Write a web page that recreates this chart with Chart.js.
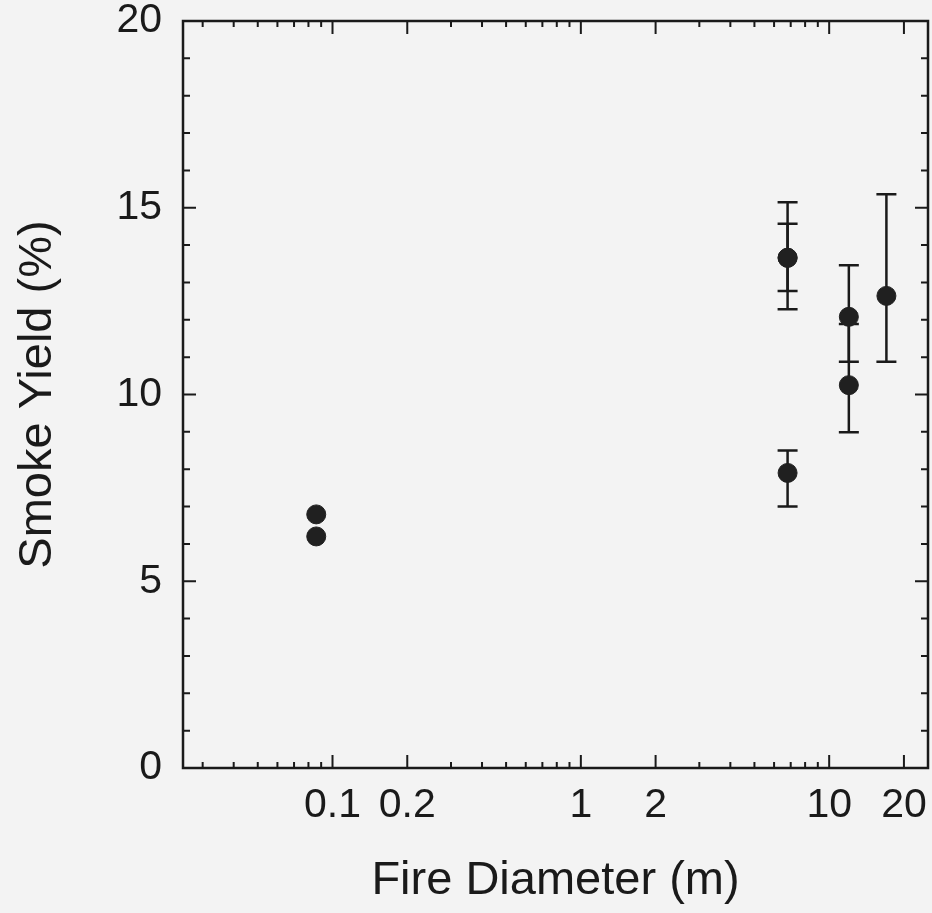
<!DOCTYPE html>
<html lang="en">
<head>
  <meta charset="UTF-8">
  <title>Smoke Yield vs Fire Diameter</title>
  <style>
    body {
      margin: 0;
      background: #f3f3f3;
    }
    #wrap {
      width: 932px;
      height: 913px;
    }
  </style>
  <script src="https://cdn.jsdelivr.net/npm/chart.js"></script>
</head>
<body>

<div id="wrap"><canvas id="chart" width="932" height="913"></canvas></div>

<script>
// measured points (fire diameter in m, smoke yield in %)
const diameter = [0.086, 0.086, 6.8, 6.8, 6.8, 12, 12, 17];
const smokeYield = [6.79, 6.2, 13.66, 13.66, 7.9, 12.08, 10.25, 12.64];
// error bar ends (null = no bar)
const errLow = [null, null, 12.77, 12.28, 7.0, 10.88, 8.99, 10.88];
const errHigh = [null, null, 14.57, 15.15, 8.5, 13.46, 11.89, 15.36];

// tick values
const xTickLabels = [0.1, 0.2, 1, 2, 10, 20];
const xMinorTicks = [0.03, 0.04, 0.05, 0.06, 0.07, 0.08, 0.09,
                     0.3, 0.4, 0.5, 0.6, 0.7, 0.8, 0.9,
                     3, 4, 5, 6, 7, 8, 9];
const yTickLabels = [0, 5, 10, 15, 20];
const yMinorTicks = [1, 2, 3, 4, 6, 7, 8, 9, 11, 12, 13, 14, 16, 17, 18, 19];

const FONT = "'Liberation Sans', Arial, Helvetica, sans-serif";
const INK = "#1a1a1a";

// error bars drawn under the dots
const errorBars = {
  id: "errorBars",
  beforeDatasetsDraw(chart) {
    const { ctx, scales: { x, y } } = chart;
    ctx.save();
    ctx.strokeStyle = INK;
    ctx.lineWidth = 2.5;
    diameter.forEach((d, i) => {
      if (errLow[i] == null) return;
      const px = x.getPixelForValue(d);
      const lo = y.getPixelForValue(errLow[i]);
      const hi = y.getPixelForValue(errHigh[i]);
      ctx.beginPath();
      ctx.moveTo(px, lo); ctx.lineTo(px, hi);
      ctx.moveTo(px - 10, lo); ctx.lineTo(px + 10, lo);
      ctx.moveTo(px - 10, hi); ctx.lineTo(px + 10, hi);
      ctx.stroke();
    });
    ctx.restore();
  }
};

// frame with inward ticks on all four sides
const frame = {
  id: "frame",
  afterDraw(chart) {
    const { ctx, chartArea: a, scales: { x, y } } = chart;
    ctx.save();
    ctx.strokeStyle = INK;
    ctx.lineWidth = 2;
    const tick = (vals, len) => {
      vals.forEach(v => {
        const px = x.getPixelForValue(v);
        ctx.moveTo(px, a.bottom); ctx.lineTo(px, a.bottom - len);
        ctx.moveTo(px, a.top); ctx.lineTo(px, a.top + len);
      });
    };
    const tickY = (vals, len) => {
      vals.forEach(v => {
        const py = y.getPixelForValue(v);
        ctx.moveTo(a.left, py); ctx.lineTo(a.left + len, py);
        ctx.moveTo(a.right, py); ctx.lineTo(a.right - len, py);
      });
    };
    ctx.beginPath();
    tick(xTickLabels, 13);
    tick(xMinorTicks, 6);
    tickY(yTickLabels.slice(1, -1), 13);
    tickY(yMinorTicks, 7);
    ctx.stroke();
    ctx.lineWidth = 2.5;
    ctx.strokeRect(a.left, a.top, a.right - a.left, a.bottom - a.top);
    ctx.restore();
  }
};

new Chart(document.getElementById("chart"), {
  type: "scatter",
  data: {
    datasets: [{
      data: diameter.map((d, i) => ({ x: d, y: smokeYield[i] })),
      backgroundColor: "#202020",
      borderColor: "#202020",
      pointRadius: 9.5,
      pointHoverRadius: 9.5
    }]
  },
  options: {
    responsive: false,
    animation: false,
    layout: {
      autoPadding: false,
      padding: { left: 0, top: 21, right: 4, bottom: 0 }
    },
    plugins: { legend: { display: false }, tooltip: { enabled: false } },
    scales: {
      x: {
        type: "logarithmic",
        min: 0.025,
        max: 25,
        // grid lines hidden; tickLength only spaces the labels
        grid: { display: false, tickLength: 13 },
        border: { display: false },
        afterBuildTicks: s => { s.ticks = xTickLabels.map(v => ({ value: v })); },
        afterFit: s => { s.height = 145; },
        ticks: {
          autoSkip: false,
          maxRotation: 0,
          padding: 0,
          color: INK,
          font: { family: FONT, size: 41 },
          callback: v => String(v)
        },
        title: {
          display: true,
          text: "Fire Diameter (m)",
          color: INK,
          font: { family: FONT, size: 47 },
          padding: { top: 0, bottom: 4 }
        }
      },
      y: {
        min: 0,
        max: 20,
        grid: { display: false },
        border: { display: false },
        afterBuildTicks: s => { s.ticks = yTickLabels.map(v => ({ value: v })); },
        afterFit: s => {
          s.width = 183;
          s.paddingTop = 0;
          s.paddingBottom = 0;
        },
        ticks: {
          padding: 13,
          color: INK,
          font: { family: FONT, size: 41 }
        },
        title: {
          display: true,
          text: "Smoke Yield (%)",
          color: INK,
          font: { family: FONT, size: 47 },
          padding: { top: 10, bottom: 0 }
        }
      }
    }
  },
  plugins: [errorBars, frame]
});
</script>
</body>
</html>
